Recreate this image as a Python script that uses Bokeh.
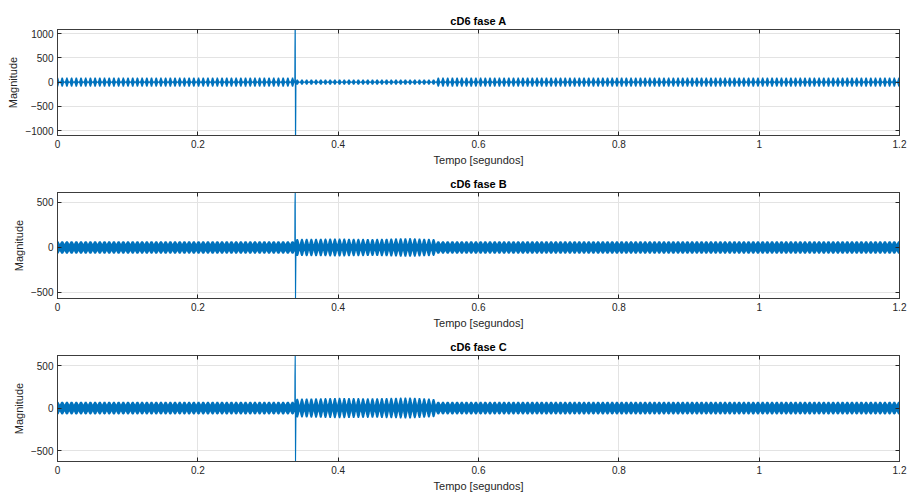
import numpy as np
from bokeh.plotting import figure
from bokeh.layouts import column
from bokeh.models import FixedTicker, LinearAxis, Range1d, CustomJSTickFormatter
from bokeh.embed import file_html
from bokeh.resources import INLINE

# ---------------- data ----------------
titles = ["cD6 fase A", "cD6 fase B", "cD6 fase C"]
x_label = "Tempo [segundos]"
y_label = "Magnitude"
x_ticks = [0, 0.2, 0.4, 0.6, 0.8, 1.0, 1.2]
y_ticks_A = [-1000, -500, 0, 500, 1000]
y_ticks_BC = [-500, 0, 500]
y_lim_A = [-1100, 1085]
y_lim_B = [-567, 611]
y_lim_C = [-629, 618]

burst_period = 0.0067          # spacing of the beat bursts (s)
sample_step = 0.0002           # coefficient spacing used to draw the carrier

# envelope knots (time, burst peak, between-burst trough)
env_t_A = [0.0, 0.339, 0.339, 0.539, 0.539, 1.2]
peak_A = [95, 95, 55, 55, 95, 95]
trough_A = [10, 10, 8, 8, 10, 10]

env_t_B = [0.0, 0.339, 0.339, 0.40, 0.45, 0.50, 0.535, 0.539, 0.539, 1.2]
peak_B = [70, 70, 95, 100, 95, 105, 95, 90, 70, 70]
trough_B = [35, 35, 25, 25, 25, 25, 25, 25, 35, 35]

env_t_C = [0.0, 0.339, 0.339, 0.40, 0.45, 0.50, 0.535, 0.539, 0.539, 1.2]
peak_C = [75, 75, 110, 120, 115, 125, 110, 100, 75, 75]
trough_C = [35, 35, 25, 25, 25, 25, 25, 25, 35, 35]

# fault transient (spike) samples
spike_t = [0.3384, 0.3388, 0.3392, 0.3396]
spike_A = [650, 1400, -1400, -600]
spike_B = [470, 611, -567, -250]
spike_C = [380, 618, -629, -280]

BLUE = "#0072BD"
FONT = "Liberation Sans"


def build_signal(env_t, peak, trough, sp_vals, shape):
    t = np.arange(0.0, 1.2 + sample_step / 2, sample_step)
    pk = np.interp(t, env_t, peak)
    tr = np.interp(t, env_t, trough)
    mod = np.abs(np.cos(np.pi * t / burst_period)) ** shape
    sign = np.where(np.arange(len(t)) % 2 == 0, 1.0, -1.0)
    y = sign * (tr + (pk - tr) * mod)
    keep = (t < spike_t[0] - 1e-6) | (t > spike_t[-1] + 1e-6)
    t_all = np.concatenate([t[keep], np.array(spike_t)])
    y_all = np.concatenate([y[keep], np.array(sp_vals, dtype=float)])
    order = np.argsort(t_all, kind="stable")
    return t_all[order], y_all[order]


def make_panel(title, t, y, ylim, yticks, height, top, bottom):
    p = figure(width=908, height=height,
               x_range=Range1d(0, 1.2), y_range=Range1d(ylim[0], ylim[1]),
               output_backend="svg", toolbar_location=None,
               min_border_left=57, min_border_right=9,
               min_border_top=top, min_border_bottom=bottom)
    p.title.text = title
    p.title.align = "center"
    p.title.text_font = FONT
    p.title.text_font_size = "11px"
    p.title.text_font_style = "bold"
    p.title.text_color = "#000000"
    p.title.standoff = 5
    p.outline_line_color = "#3c3c3c"
    p.outline_line_width = 1
    p.background_fill_color = "white"
    p.border_fill_color = "white"

    p.line(t, y, line_color=BLUE, line_width=1.1)

    fmt = CustomJSTickFormatter(code="return (Math.round(tick*10)/10).toString();")
    for ax in p.xaxis:
        ax.ticker = FixedTicker(ticks=x_ticks)
        ax.formatter = fmt
        ax.axis_label = x_label
    for ax in p.yaxis:
        ax.ticker = FixedTicker(ticks=yticks)
        ax.axis_label = y_label
    for ax in list(p.xaxis) + list(p.yaxis):
        ax.axis_line_color = "#3c3c3c"
        ax.major_tick_in = 4
        ax.major_tick_out = 0
        ax.major_tick_line_color = "#262626"
        ax.minor_tick_line_color = None
        ax.major_label_text_font = FONT
        ax.major_label_text_font_size = "10px"
        ax.major_label_text_color = "#262626"
        ax.major_label_standoff = 4
        ax.axis_label_text_font = FONT
        ax.axis_label_text_font_size = "11px"
        ax.axis_label_text_font_style = "normal"
        ax.axis_label_text_color = "#262626"
        ax.axis_label_standoff = 3

    top_ax = LinearAxis(ticker=FixedTicker(ticks=x_ticks), major_label_text_color=None,
                        major_label_standoff=0, major_tick_in=4, major_tick_out=0,
                        minor_tick_line_color=None, axis_line_color="#3c3c3c",
                        major_tick_line_color="#262626")
    right_ax = LinearAxis(ticker=FixedTicker(ticks=yticks), major_label_text_color=None,
                          major_label_standoff=0, major_tick_in=4, major_tick_out=0,
                          minor_tick_line_color=None, axis_line_color="#3c3c3c",
                          major_tick_line_color="#262626")
    p.add_layout(top_ax, "above")
    p.add_layout(right_ax, "right")

    p.xgrid.ticker = FixedTicker(ticks=x_ticks)
    p.ygrid.ticker = FixedTicker(ticks=yticks)
    for g in (p.xgrid, p.ygrid):
        g.grid_line_color = "#e3e3e3"
        g.grid_line_width = 1
    return p


tA, yA = build_signal(env_t_A, peak_A, trough_A, spike_A, 4)
tB, yB = build_signal(env_t_B, peak_B, trough_B, spike_B, 1.5)
tC, yC = build_signal(env_t_C, peak_C, trough_C, spike_C, 1.5)

pA = make_panel(titles[0], tA, yA, y_lim_A, y_ticks_A, 169, 29, 34)
pB = make_panel(titles[1], tB, yB, y_lim_B, y_ticks_BC, 163, 23, 34)
pC = make_panel(titles[2], tC, yC, y_lim_C, y_ticks_BC, 168, 23, 39)

layout = column(pA, pB, pC, spacing=0)
open("out.html", "w").write(file_html(layout, INLINE))
